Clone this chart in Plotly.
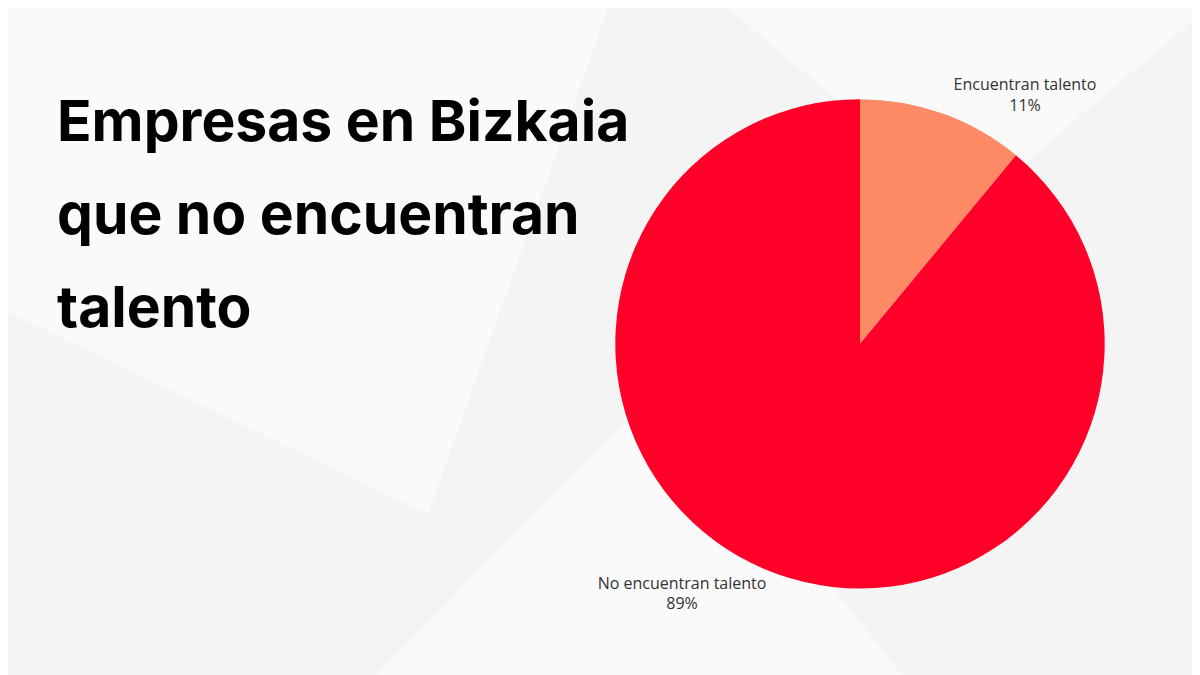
import plotly.graph_objects as go

labels = ["Encuentran talento", "No encuentran talento"]
values = [11, 89]
colors = ["#ff8a65", "#ff0029"]
title_lines = ["Empresas en Bizkaia", "que no encuentran", "talento"]

fig = go.Figure()
fig.add_trace(go.Pie(
    labels=labels, values=values, sort=False, direction="clockwise", rotation=0,
    marker=dict(colors=colors, line=dict(width=0)),
    textposition="outside", texttemplate="%{label}<br>%{percent:.0%}",
    textfont=dict(family="Open Sans", size=16, color="#333333"),
    showlegend=False, hoverinfo="label+percent",
    domain=dict(x=[0.505, 0.915], y=[0.14, 0.865]),
))

shapes = [
    dict(type="path", path="M 0 0.55 L 0.35 0.25 L 0.5 1 L 0 1 Z", fillcolor="rgba(255,255,255,0.55)"),
    dict(type="path", path="M 0.3 0 L 0.55 0.45 L 0.75 0 Z", fillcolor="rgba(255,255,255,0.5)"),
    dict(type="path", path="M 0.6 1 L 0.8 0.7 L 1 1 Z", fillcolor="rgba(255,255,255,0.5)"),
]
for s in shapes:
    s.update(xref="paper", yref="paper", line=dict(width=0), layer="below")

for i, t in enumerate(title_lines):
    fig.add_annotation(text=f"<b>{t}</b>", x=47 / 1200, y=1 - (112 + i * 93) / 675,
                       xref="paper", yref="paper", xanchor="left", yanchor="middle",
                       showarrow=False, font=dict(family="Inter", size=57, color="#000000"))

fig.update_layout(width=1200, height=675, margin=dict(l=0, r=0, t=0, b=0),
                  paper_bgcolor="#f4f4f4", plot_bgcolor="#f4f4f4", shapes=shapes)
fig.write_html("out.html")
